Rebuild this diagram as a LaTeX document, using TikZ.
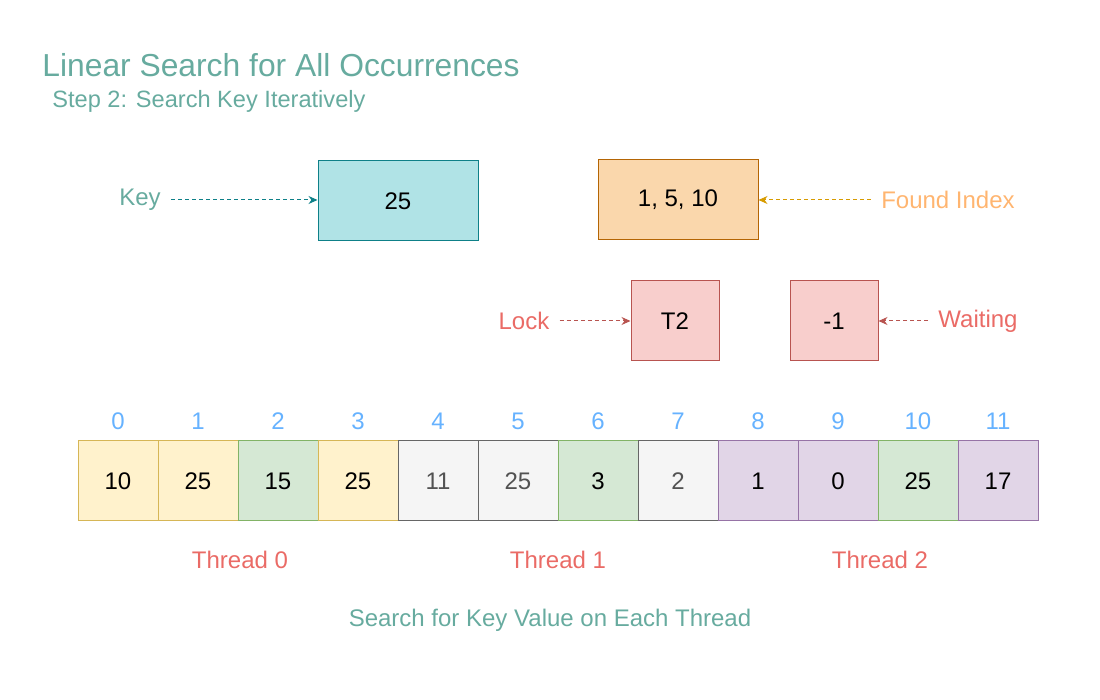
\documentclass[tikz,border=0pt]{standalone}
\usepackage{fontspec}
\setmainfont{Liberation Sans}
\usetikzlibrary{positioning,arrows.meta}
\definecolor{cTeal}{HTML}{67AB9F}
\definecolor{cCyanF}{HTML}{B0E3E6}
\definecolor{cCyanS}{HTML}{0E8088}
\definecolor{cOrgF}{HTML}{FAD7AC}
\definecolor{cOrgS}{HTML}{B46504}
\definecolor{cOrgT}{HTML}{FFB570}
\definecolor{cOrgA}{HTML}{D79B00}
\definecolor{cRedF}{HTML}{F8CECC}
\definecolor{cRedS}{HTML}{B85450}
\definecolor{cRedT}{HTML}{EA6B66}
\definecolor{cYelF}{HTML}{FFF2CC}
\definecolor{cYelS}{HTML}{D6B656}
\definecolor{cGrnF}{HTML}{D5E8D4}
\definecolor{cGrnS}{HTML}{82B366}
\definecolor{cGryF}{HTML}{F5F5F5}
\definecolor{cGryS}{HTML}{666666}
\definecolor{cPurF}{HTML}{E1D5E7}
\definecolor{cPurS}{HTML}{9673A6}
\definecolor{cIdx}{HTML}{66B2FF}

\begin{document}
\begin{tikzpicture}[x=0.5pt, y=-0.5pt, font=\fontsize{12}{14}\selectfont,
    box/.style={draw, line width=0.5pt, inner sep=0pt, minimum height=40pt},
    cell/.style={box, minimum width=40pt},
    lbl/.style={inner sep=5pt},
    ptr/.style={dashed, line width=0.5pt, dash pattern=on 2pt off 1.5pt,
      -{Stealth[length=4.5pt,width=4pt]}}]
    \useasboundingbox (0,0) rectangle (1100,700);

    % --- headings ------------------------------------------------------
    \node[anchor=west, inner sep=0pt, text=cTeal, font=\fontsize{15.9}{18}\selectfont]
      (title) at (42,65) {Linear Search for All Occurrences};
    \node[anchor=west, inner sep=0pt, text=cTeal, font=\fontsize{11.8}{14}\selectfont]
      (subtitle) at (52,101) {Step 2: Search Key Iteratively};

    % --- key / result / lock boxes -------------------------------------
    \node[box, minimum width=80pt, fill=cCyanF, draw=cCyanS] (key) at (398,201) {25};
    \node[box, minimum width=80pt, fill=cOrgF, draw=cOrgS] (found) at (678,200) {1, 5, 10};
    \node[box, minimum width=44pt, fill=cRedF, draw=cRedS] (lock) at (675,321) {T2};
    \node[box, minimum width=44pt, fill=cRedF, draw=cRedS] (wait) at (834,321) {-1};

    \node[lbl, text=cTeal] (keylbl) at (140,200) {Key};
    \node[lbl, text=cOrgT] (foundlbl) at (948,200) {Found Index};
    \node[lbl, text=cRedT] (locklbl) at (524,321) {Lock};
    \node[lbl, text=cRedT] (waitlbl) at (978,321) {Waiting};

    \draw[ptr, cCyanS] (keylbl.east) -- (keylbl.east -| key.west);
    \draw[ptr, cOrgA] (foundlbl.west) -- (foundlbl.west -| found.east);
    \draw[ptr, cRedS] (locklbl.east) -- (lock.west);
    \draw[ptr, cRedS] (waitlbl.west) -- (wait.east);

    % --- array cells + indices -----------------------------------------
    \foreach \i/\v/\f/\s/\t in {%
        0/10/cYelF/cYelS/black, 1/25/cYelF/cYelS/black,
        2/15/cGrnF/cGrnS/black, 3/25/cYelF/cYelS/black,
        4/11/cGryF/cGryS/cGryS!80!black, 5/25/cGryF/cGryS/cGryS!80!black,
        6/3/cGrnF/cGrnS/black, 7/2/cGryF/cGryS/cGryS!80!black,
        8/1/cPurF/cPurS/black, 9/0/cPurF/cPurS/black,
        10/25/cGrnF/cGrnS/black, 11/17/cPurF/cPurS/black}
    {
      \node[cell, fill=\f, draw=\s, text=\t] (c\i) at ({118+80*\i},481) {\v};
      \node[text=cIdx] (i\i) at ({118+80*\i},421) {\i};
    }

    % --- thread labels + caption ---------------------------------------
    \node[text=cRedT] (t0) at (240,560) {Thread 0};
    \node[text=cRedT] (t1) at (558,560) {Thread 1};
    \node[text=cRedT] (t2) at (880,560) {Thread 2};
    \node[text=cTeal] (caption) at (550,620) {Search for Key Value on Each Thread};
  \end{tikzpicture}
\end{document}
